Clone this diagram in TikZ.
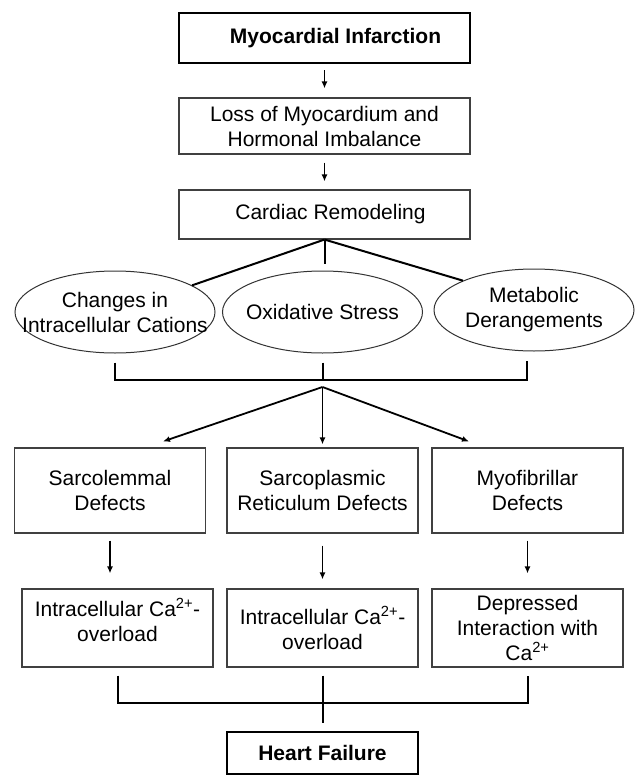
\documentclass[tikz,border=0pt]{standalone}
\usepackage{fontspec}
\setmainfont{Liberation Sans}
\usetikzlibrary{shapes,arrows.meta}

\begin{document}
\begin{tikzpicture}[x=1pt, y=-1pt,
    every node/.style={font=\fontsize{21}{25}\selectfont, align=center, inner sep=0pt},
    box/.style={draw=black!75, line width=1.1pt, minimum width=191pt},
    mainbox/.style={draw, line width=2.2pt, font=\fontsize{21}{25}\selectfont\bfseries},
    oval/.style={ellipse, draw=black!80, line width=1pt, minimum width=200pt, minimum height=82pt, inner xsep=-40pt},
    link/.style={line width=2pt},
    arr/.style={line width=1.8pt, -{Latex[length=7pt,width=6pt]}} ]
    \useasboundingbox (0,0) rectangle (636,776);

    % top column
    \node[mainbox, minimum width=291pt, minimum height=50pt] (mi) at (324.5,38) {\hspace*{22pt}Myocardial Infarction};
    \node[box, minimum width=291pt, minimum height=56pt] (loss) at (324.5,126) {Loss of Myocardium and\\Hormonal Imbalance};
    \node[box, minimum width=291pt, minimum height=49pt] (remod) at (324.5,214.5) {\hspace*{12pt}Cardiac Remodeling};

    % the three ovals
    \node[oval] (cat) at (115,312) {Changes in\\Intracellular Cations};
    \node[oval] (ox) at (322.5,312) {Oxidative Stress};
    \node[oval] (meta) at (534,310) {Metabolic\\Derangements};

    % defects
    \node[box, minimum height=85pt] (sl) at (110,490.5) {Sarcolemmal\\Defects};
    \node[box, minimum height=85pt] (sr) at (322.5,490.5) {Sarcoplasmic\\Reticulum Defects};
    \node[box, minimum height=85pt] (mf) at (527.5,490.5) {Myofibrillar\\Defects};

    % consequences
    \node[box, minimum height=78pt] (ov1) at (117.5,628) {Intracellular Ca\textsuperscript{2+}-\\overload\\[-9pt]};
    \node[box, minimum height=78pt] (ov2) at (322.5,628) {Intracellular Ca\textsuperscript{2+}-\\overload};
    \node[box, minimum height=78pt] (dep) at (527.5,628) {Depressed\\Interaction with\\Ca\textsuperscript{2+}};

    \node[mainbox, minimum width=191pt, minimum height=42pt] (hf) at (322.5,753) {Heart Failure};

    \coordinate (top) at (322.5,380);
    \coordinate (fork) at (322.5,387);
    \coordinate (bot) at (322.5,703);

    \draw[arr, shorten <=6pt, shorten >=9pt] (mi) -- (loss);
    \draw[arr, shorten <=8pt, shorten >=8pt] (loss) -- (remod);
    \draw[link] (remod.south) -- (cat);
    \draw[link, shorten >=7pt] (remod.south) -- (remod.south |- ox.north);
    \draw[link] (remod.south) -- (meta.north west);

    \draw[link] ([yshift=-9pt]cat.south) |- (top) -| ([xshift=-7pt,yshift=-9pt]meta.south);
    \draw[link] ([yshift=-9pt]ox.south) -- (top);

    \draw[arr] (fork) -- ([xshift=53pt,yshift=6pt]sl.north);
    \draw[arr] (fork) -- ([yshift=3pt]sr.north);
    \draw[arr] (fork) -- ([xshift=-58.5pt,yshift=6pt]mf.north);

    \draw[arr, shorten <=7pt, shorten >=15pt] (sl.south) -- (sl.south |- ov1.north);
    \draw[arr, shorten <=12pt, shorten >=9pt] (sr) -- (ov2);
    \draw[arr, shorten <=7pt, shorten >=15pt] (mf) -- (dep);

    \draw[link] ([yshift=-8pt]ov1.south) |- (bot) -| ([yshift=-8pt]dep.south);
    \draw[link] ([yshift=-8pt]ov2.south) -- ([yshift=8pt]hf.north);
\end{tikzpicture}
\end{document}
